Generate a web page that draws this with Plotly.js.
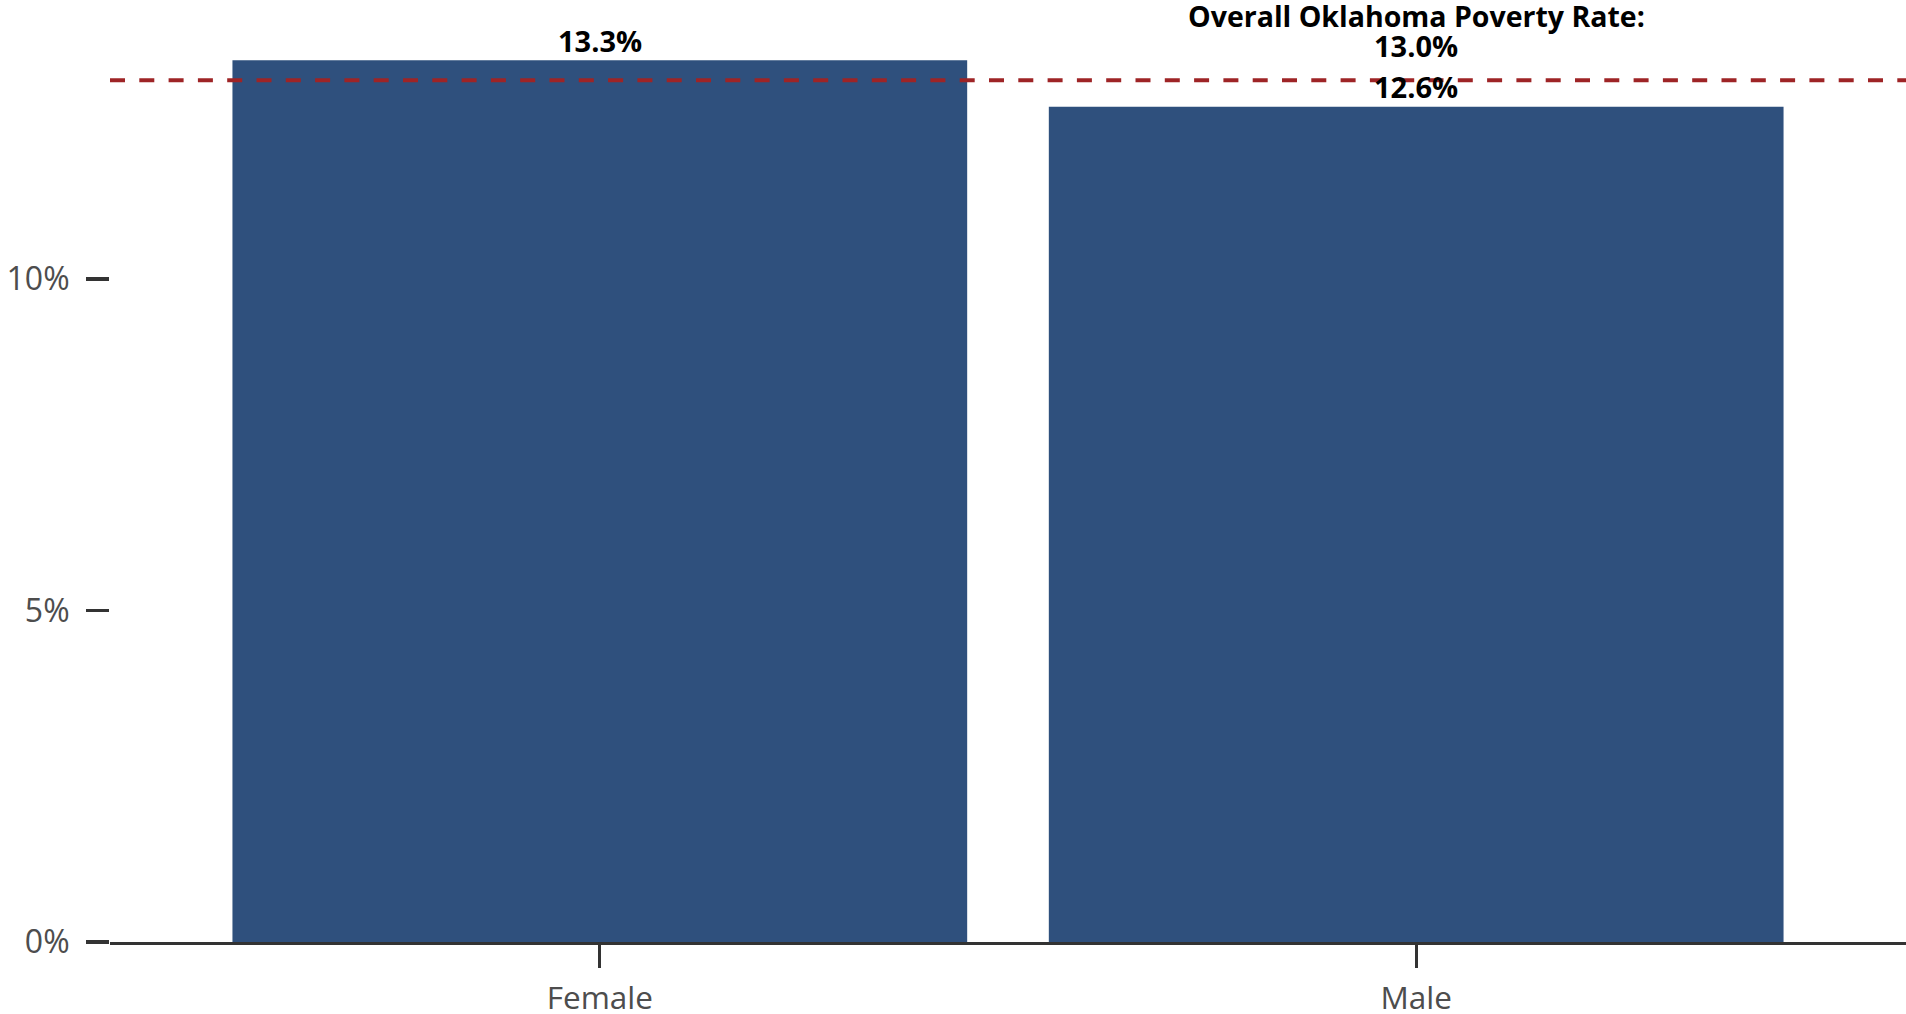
<!DOCTYPE html>
<html>
<head>
<meta charset="utf-8">
<script src="https://cdn.plot.ly/plotly-3.0.1.min.js"></script>
<style>
  html, body { margin: 0; padding: 0; background: #ffffff; }
  #chart { width: 1906px; height: 1014px; }
</style>
</head>
<body>
<div id="chart"></div>
<script>
// Poverty rate by sex, Oklahoma
const categories = ['Female', 'Male'];
const povertyRates = [13.3, 12.6];
const overallRate = 13.0;
const overallLabel = 'Overall Oklahoma Poverty Rate:';
const yTickValues = [0, 5, 10];
const yTickLabels = ['0%', '5%', '10%'];

const fmt = v => v.toFixed(1) + '%';

const barColor = '#2F507D';
const refColor = '#9E2426';
const axisColor = '#333333';
const tickFontColor = '#4D4D4D';
const regularFont = '"Open Sans", "Noto Sans", sans-serif';
const boldFont = '"Open Sans", "Noto Sans", sans-serif';

const trace = {
  type: 'bar',
  x: categories,
  y: povertyRates,
  marker: { color: barColor, line: { width: 0 } },
  hoverinfo: 'skip'
};

// value labels above each bar
const valueAnnotations = categories.map((c, i) => ({
  x: c, y: povertyRates[i], xref: 'x', yref: 'y',
  text: '<b>' + fmt(povertyRates[i]) + '</b>',
  showarrow: false, yanchor: 'middle', yshift: 20,
  font: { family: boldFont, size: 29, color: '#000000' }
}));

// reference line caption, placed over the last category
const refAnnotations = [
  { text: '<b>' + overallLabel + '</b>', yshift: 64, size: 28.5 },
  { text: '<b>' + fmt(overallRate) + '</b>', yshift: 35, size: 29 }
].map(a => ({
  x: categories[categories.length - 1], y: overallRate, xref: 'x', yref: 'y',
  text: a.text, showarrow: false, yanchor: 'middle', yshift: a.yshift,
  font: { family: boldFont, size: a.size, color: '#000000' }
}));

const layout = {
  width: 1906,
  height: 1014,
  margin: { l: 110, r: 0, t: 0, b: 72, pad: 0 },
  paper_bgcolor: '#ffffff',
  plot_bgcolor: '#ffffff',
  showlegend: false,
  bargap: 0.1,
  xaxis: {
    type: 'category',
    range: [-0.6, 1.6],
    showgrid: false,
    zeroline: false,
    showline: true,
    linecolor: axisColor,
    linewidth: 3,
    ticks: 'outside',
    ticklen: 23,
    tickwidth: 3,
    tickcolor: axisColor,
    ticklabelstandoff: 3,
    tickfont: { family: regularFont, size: 31.5, color: tickFontColor },
    fixedrange: true
  },
  yaxis: {
    range: [0, 14.21],
    showgrid: false,
    zeroline: false,
    showline: false,
    ticks: 'outside',
    ticklen: 23,
    tickwidth: 3.5,
    tickcolor: axisColor,
    tickmode: 'array',
    tickvals: yTickValues,
    ticktext: yTickLabels,
    ticklabelstandoff: 10,
    tickfont: { family: regularFont, size: 32, color: tickFontColor },
    fixedrange: true
  },
  shapes: [{
    type: 'line', xref: 'paper', yref: 'y',
    x0: 0, x1: 1, y0: overallRate, y1: overallRate,
    line: { color: refColor, width: 4, dash: '15px,14.3px' },
    layer: 'above'
  }],
  annotations: valueAnnotations.concat(refAnnotations)
};

Plotly.newPlot('chart', [trace], layout, { displayModeBar: false, staticPlot: true });
</script>
</body>
</html>
